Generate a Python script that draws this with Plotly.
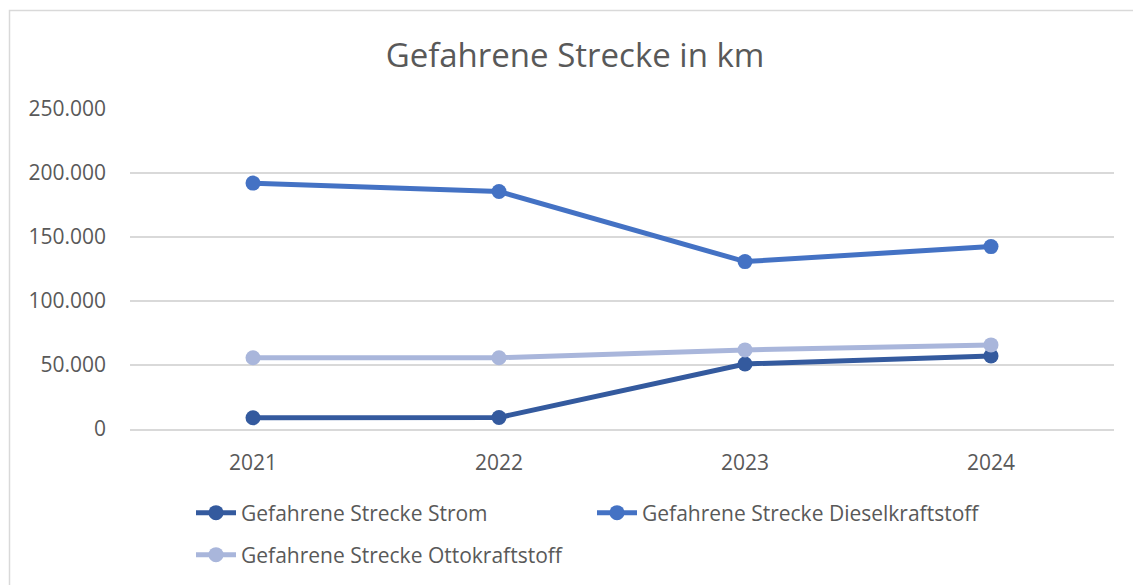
import plotly.graph_objects as go

years = ["2021", "2022", "2023", "2024"]
strom = [8800, 9000, 50800, 57100]
diesel = [192100, 185500, 130800, 142500]
otto = [55700, 55700, 61800, 65700]

names = ["Gefahrene Strecke Strom", "Gefahrene Strecke Dieselkraftstoff", "Gefahrene Strecke Ottokraftstoff"]
colors = ["#345A9E", "#4472C4", "#A9B6DB"]

FONT = "Open Sans"
TXT = "#595959"

fig = go.Figure()
for i, (vals, nm, col) in enumerate(zip([strom, diesel, otto], names, colors)):
    fig.add_trace(go.Scatter(
        x=years, y=vals, name=nm, mode="lines+markers",
        line=dict(color=col, width=5),
        marker=dict(color=col, size=15),
        legend="legend" if i < 2 else "legend2",
    ))

L, R, T, B = 130, 19, 109, 156
W, H = 1133, 585
pw, ph = W - L - R, H - T - B

def px_x(x):
    return (x - L) / pw

def px_y(y):
    return (H - B - y) / ph

def cy(y):
    return 1 - y / H

fig.update_layout(
    width=W, height=H,
    margin=dict(l=L, r=R, t=T, b=B, autoexpand=False),
    paper_bgcolor="white", plot_bgcolor="white",
    separators=",.",
    font=dict(family=FONT, color=TXT, size=21),
    title=dict(text="Gefahrene Strecke in km", x=575 / W, xref="container",
               xanchor="center", y=cy(55), yref="container", yanchor="middle",
               font=dict(size=33, color=TXT, family=FONT)),
    xaxis=dict(type="category", range=[-0.5, 3.5], showgrid=False, showline=True,
               linecolor="#D9D9D9", linewidth=1.5, ticks="", ticklabelstandoff=14,
               tickfont=dict(size=21, color=TXT), zeroline=False),
    yaxis=dict(range=[0, 250000], tickvals=[0, 50000, 100000, 150000, 200000, 250000],
               tickformat=",d", showgrid=True, gridcolor="#D9D9D9", gridwidth=1.5,
               zeroline=False, showline=False, ticks="", ticklabelstandoff=23,
               tickfont=dict(size=21, color=TXT)),
    legend=dict(orientation="h", x=px_x(191), xanchor="left", y=cy(513), yref="container",
                yanchor="middle",
                entrywidth=346, entrywidthmode="pixels", font=dict(size=21, color=TXT),
                bgcolor="rgba(0,0,0,0)", itemwidth=40),
    legend2=dict(orientation="h", x=px_x(191), xanchor="left", y=cy(555), yref="container",
                 yanchor="middle",
                 font=dict(size=21, color=TXT), bgcolor="rgba(0,0,0,0)", itemwidth=40),
    showlegend=True,
    shapes=[dict(type="rect", xref="paper", yref="paper",
                 x0=px_x(9.5), x1=px_x(1145), y0=px_y(600), y1=px_y(10.5),
                 line=dict(color="#D9D9D9", width=1.5), fillcolor="rgba(0,0,0,0)", layer="below")],
)

fig.write_html("out.html")
